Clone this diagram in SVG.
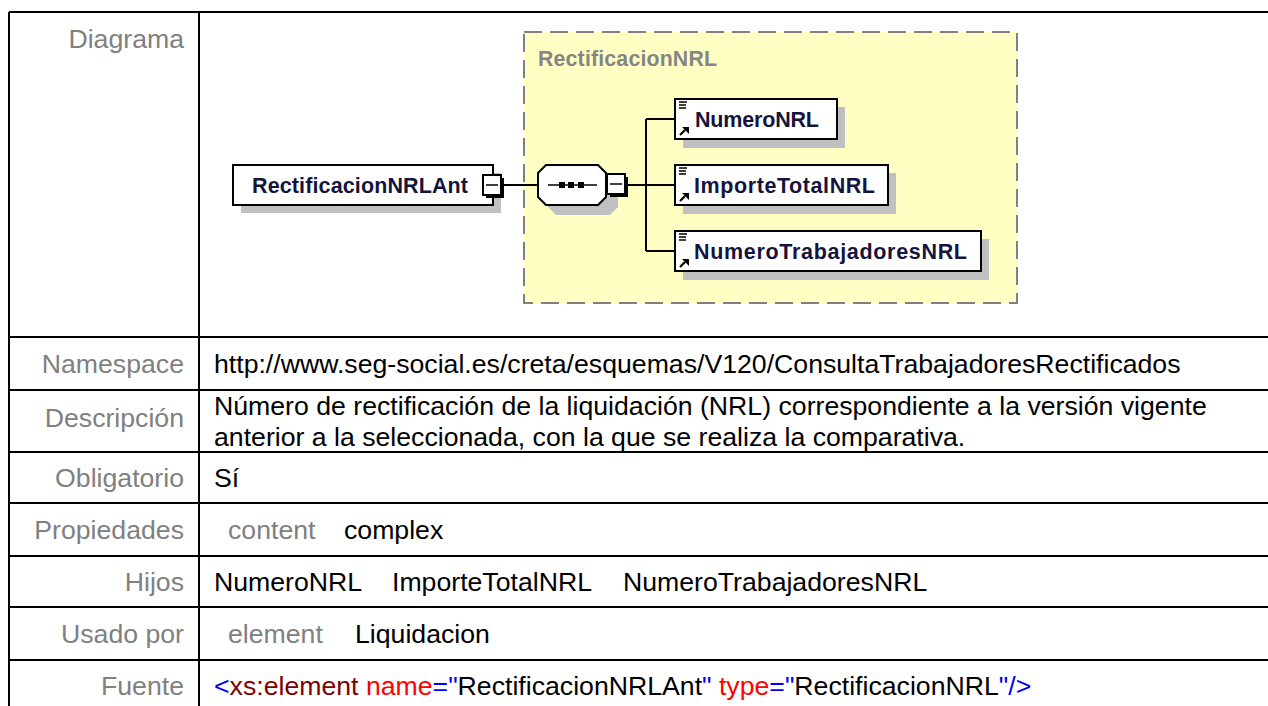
<svg xmlns="http://www.w3.org/2000/svg" width="1268" height="706" viewBox="0 0 1268 706">
<defs>
<style>
.lbl{font-family:"Liberation Sans",Arial,sans-serif;font-size:26.67px;fill:#808080;text-anchor:end}
.val{font-family:"Liberation Sans",Arial,sans-serif;font-size:26.67px;fill:#000}
.gry{fill:#808080}
.grid{stroke:#000;stroke-width:2;fill:none}
.node{fill:#fff;stroke:#000;stroke-width:2}
.shadow{fill:#c0c0c0}
.ntxt{font-family:"Liberation Sans",Arial,sans-serif;font-size:21.5px;font-weight:bold;fill:#14143c}
.conn{stroke:#000;stroke-width:2;fill:none}
.blue{fill:#0000ff}
.maroon{fill:#800000}
.red{fill:#ff0000}
</style>
<g id="icon">
<path d="M0 0H8M0 3H7M0 6H7" stroke="#000" stroke-width="1.4" fill="none"/>
<path d="M1 33L6 28" stroke="#000" stroke-width="2.2" fill="none"/>
<path d="M3 25L10 25L10 32Z" fill="#000"/>
</g>
<g id="minus">
<rect x="3" y="3" width="18" height="20" fill="#000"/>
<rect x="0" y="0" width="18" height="20" fill="#fff" stroke="#000" stroke-width="2"/>
<path d="M3 10H15" stroke="#000" stroke-width="1.5"/>
</g>
</defs>

<g id="table">
<path class="grid" d="M9 12H1268M9 12V706M199 12V706M9 337H1268M9 390H1268M9 452H1268M9 503H1268M9 556H1268M9 607H1268M9 660H1268"/>
<text class="lbl" x="184" y="48">Diagrama</text>
<text class="lbl" x="184" y="373">Namespace</text>
<text class="lbl" x="184" y="427">Descripción</text>
<text class="lbl" x="184" y="487">Obligatorio</text>
<text class="lbl" x="184" y="539">Propiedades</text>
<text class="lbl" x="184" y="591">Hijos</text>
<text class="lbl" x="184" y="643">Usado por</text>
<text class="lbl" x="184" y="695">Fuente</text>
<text class="val" x="214" y="373">http://www.seg-social.es/creta/esquemas/V120/ConsultaTrabajadoresRectificados</text>
<text class="val" x="214" y="415">Número de rectificación de la liquidación (NRL) correspondiente a la versión vigente</text>
<text class="val" x="214" y="446">anterior a la seleccionada, con la que se realiza la comparativa.</text>
<text class="val" x="214" y="487">Sí</text>
<text class="val gry" x="228" y="539">content</text>
<text class="val" x="344" y="539">complex</text>
<text class="val" x="214" y="591">NumeroNRL</text>
<text class="val" x="392" y="591">ImporteTotalNRL</text>
<text class="val" x="623" y="591">NumeroTrabajadoresNRL</text>
<text class="val gry" x="228" y="643">element</text>
<text class="val" x="355" y="643">Liquidacion</text>
<text class="val" x="214" y="695"><tspan class="blue">&lt;</tspan><tspan class="maroon">xs:element</tspan><tspan class="red"> name</tspan><tspan class="blue">="</tspan>RectificacionNRLAnt<tspan class="blue">"</tspan><tspan class="red"> type</tspan><tspan class="blue">="</tspan>RectificacionNRL<tspan class="blue">"/&gt;</tspan></text>
</g>

<g id="group-RectificacionNRL">
<rect x="524" y="32" width="493" height="271" fill="#ffffc4" stroke="#808080" stroke-width="2" stroke-dasharray="18 8"/>
<text x="538" y="66" font-family="'Liberation Sans',Arial,sans-serif" font-size="21.3px" font-weight="bold" fill="#858585" textLength="179" lengthAdjust="spacing">RectificacionNRL</text>
</g>

<g id="connectors">
<path class="conn" d="M504 185H538"/>
<path class="conn" d="M628 185H676M646 119V251M646 119H676M646 251H676"/>
</g>

<g id="node-RectificacionNRLAnt">
<rect class="shadow" x="241" y="173" width="260" height="40"/>
<rect class="node" x="233" y="165" width="260" height="40"/>
<text class="ntxt" x="252" y="193" textLength="216" lengthAdjust="spacing">RectificacionNRLAnt</text>
<use href="#minus" x="483" y="175"/>
</g>

<g id="node-sequence">
<path class="shadow" d="M556 175H610L618 183V207L610 215H556L548 207V183Z"/>
<path d="M546 165H598L606 173V197L598 205H546L538 197V173Z" fill="#fff" stroke="#000" stroke-width="2"/>
<path d="M548 185H597" stroke="#000" stroke-width="1.5"/>
<rect x="559" y="182" width="6" height="6" fill="#000"/>
<rect x="568" y="182" width="6" height="6" fill="#000"/>
<rect x="578" y="182" width="6" height="6" fill="#000"/>
<use href="#minus" x="607" y="174"/>
</g>

<g id="node-NumeroNRL">
<rect class="shadow" x="683" y="107" width="162" height="41"/>
<rect class="node" x="675" y="99" width="162" height="40"/>
<use href="#icon" x="679" y="102"/>
<text class="ntxt" x="695" y="127" textLength="124" lengthAdjust="spacing">NumeroNRL</text>
</g>

<g id="node-ImporteTotalNRL">
<rect class="shadow" x="683" y="173" width="213" height="41"/>
<rect class="node" x="675" y="165" width="213" height="40"/>
<use href="#icon" x="679" y="168"/>
<text class="ntxt" x="694" y="193" textLength="181" lengthAdjust="spacing">ImporteTotalNRL</text>
</g>

<g id="node-NumeroTrabajadoresNRL">
<rect class="shadow" x="683" y="239" width="306" height="41"/>
<rect class="node" x="675" y="231" width="306" height="40"/>
<use href="#icon" x="679" y="234"/>
<text class="ntxt" x="694" y="259" textLength="273" lengthAdjust="spacing">NumeroTrabajadoresNRL</text>
</g>
</svg>
